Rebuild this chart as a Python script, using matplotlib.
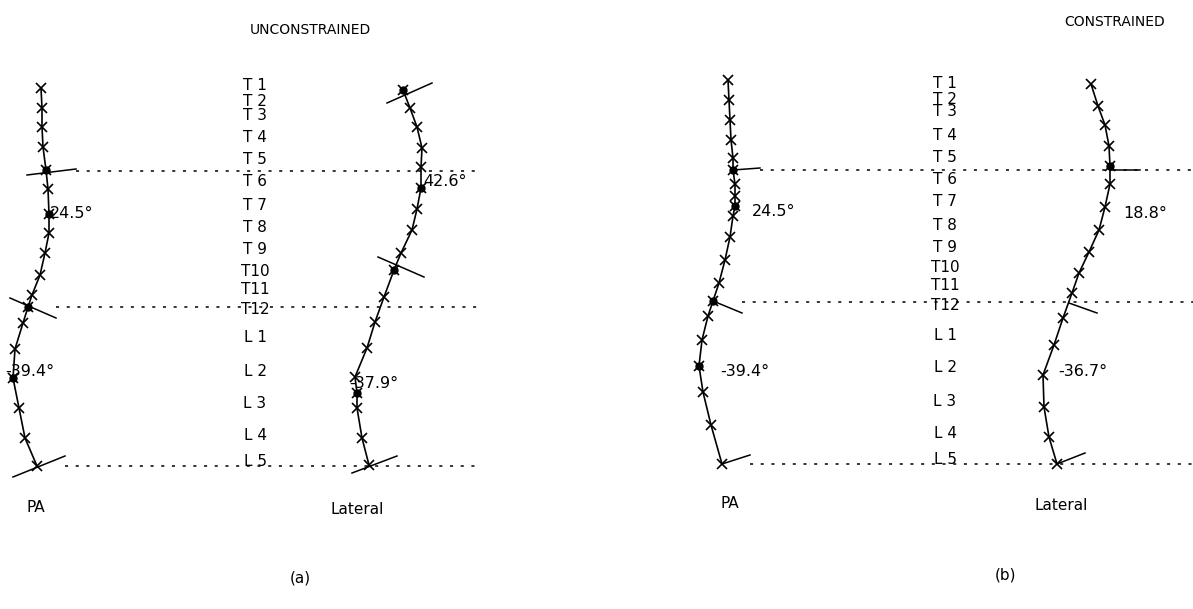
import matplotlib.pyplot as plt

# vertebra level names (same column in both panels)
vert_labels = ['T 1', 'T 2', 'T 3', 'T 4', 'T 5', 'T 6', 'T 7', 'T 8', 'T 9', 'T10',
               'T11', 'T12', 'L 1', 'L 2', 'L 3', 'L 4', 'L 5']
label_y_a = [85, 102, 115, 138, 160, 181, 205, 228, 250, 271, 289, 309, 338, 371, 404, 436, 462]
label_y_b = [83, 99, 112, 135, 157, 179, 202, 225, 247, 268, 286, 305, 335, 368, 401, 433, 459]

# (a) unconstrained, PA view
pa_a_x = [41, 42, 42, 43, 46, 48, 49, 49, 45, 40, 32, 28, 23, 15, 13, 19, 25, 37]
pa_a_y = [88, 108, 127, 147, 170, 189, 214, 233, 253, 275, 295, 307, 323, 349, 378, 408, 438, 466]
pa_a_dots = [4, 6, 11, 14]

# (a) unconstrained, lateral view
lat_a_x = [403, 410, 417, 422, 421, 421, 417, 412, 401, 394, 384, 375, 367, 355, 357, 357, 362, 369]
lat_a_y = [90, 108, 127, 148, 167, 188, 209, 230, 253, 270, 297, 322, 348, 377, 393, 408, 438, 465]
lat_a_dots = [0, 5, 9, 14]

# (b) constrained, PA view
pa_b_x = [728, 729, 730, 731, 733, 733, 735, 735, 735, 733, 730, 725, 719, 713, 708, 702, 699, 703, 711, 722]
pa_b_y = [80, 100, 120, 140, 158, 170, 184, 196, 206, 216, 237, 260, 283, 301, 316, 340, 366, 392, 425, 464]
pa_b_dots = [5, 8, 13, 16]

# (b) constrained, lateral view
lat_b_x = [1091, 1098, 1105, 1109, 1110, 1110, 1105, 1099, 1089, 1079, 1072, 1063, 1054, 1043, 1044, 1049, 1057]
lat_b_y = [84, 106, 125, 146, 166, 184, 207, 230, 252, 273, 293, 318, 345, 375, 407, 437, 464]
lat_b_dots = [4]

# endplate tilt lines
tilt_a = [((27, 175), (76, 169)), ((10, 298), (56, 318)), ((13, 477), (65, 456)),
          ((387, 103), (432, 83)), ((378, 257), (424, 277)), ((352, 473), (397, 456))]
tilt_b = [((733, 170), (760, 168)), ((713, 301), (742, 313)), ((722, 464), (750, 455)),
          ((1110, 170), (1140, 170)), ((1069, 303), (1097, 313)), ((1057, 464), (1085, 453))]

# horizontal reference levels (y, x start, x end)
levels_a = [(171, 76, 480), (307, 56, 483), (466, 65, 480)]
levels_b = [(170, 760, 1193), (302, 742, 1193), (464, 750, 1193)]

# Cobb angle annotations
angles = [('24.5°', 50, 214), ('-39.4°', 5, 372), ('42.6°', 423, 181), ('-37.9°', 349, 383),
          ('24.5°', 752, 212), ('-39.4°', 720, 372), ('18.8°', 1123, 213), ('-36.7°', 1058, 372)]

narrow = ['Liberation Sans Narrow', 'DejaVu Sans']

fig = plt.figure(figsize=(11.93, 6.09), dpi=100)
ax = fig.add_axes([0, 0, 1, 1])
ax.set_xlim(0, 1193)
ax.set_ylim(609, 0)
ax.axis('off')


def draw_spine(ax, xs, ys, dots):
    ax.plot(xs, ys, color='black', lw=1.2, zorder=3)
    ax.plot(xs, ys, ls='none', marker='x', ms=7, mew=1.2, color='black', zorder=4)
    ax.plot([xs[i] for i in dots], [ys[i] for i in dots], ls='none', marker='o', ms=5,
            color='black', zorder=5)


for xs, ys, d in [(pa_a_x, pa_a_y, pa_a_dots), (lat_a_x, lat_a_y, lat_a_dots),
                  (pa_b_x, pa_b_y, pa_b_dots), (lat_b_x, lat_b_y, lat_b_dots)]:
    draw_spine(ax, xs, ys, d)

for (p0, p1) in tilt_a + tilt_b:
    ax.plot([p0[0], p1[0]], [p0[1], p1[1]], color='black', lw=1.1, zorder=3)

for y, x0, x1 in levels_a + levels_b:
    ax.plot([x0, x1], [y, y], color='black', lw=1.1, ls=(0, (2, 5)), zorder=2)

for lab, ya, yb in zip(vert_labels, label_y_a, label_y_b):
    ax.text(255, ya, lab, ha='center', va='center', fontsize=11, family=narrow)
    ax.text(945, yb, lab, ha='center', va='center', fontsize=11, family=narrow)

for txt, x, y in angles:
    ax.text(x, y, txt, ha='left', va='center', fontsize=11.5, family=narrow, zorder=6)

ax.text(310, 30, 'UNCONSTRAINED', ha='center', va='center', fontsize=10)
ax.text(1115, 22, 'CONSTRAINED', ha='center', va='center', fontsize=10)
ax.text(27, 508, 'PA', ha='left', va='center', fontsize=11)
ax.text(330, 509, 'Lateral', ha='left', va='center', fontsize=11)
ax.text(720, 503, 'PA', ha='left', va='center', fontsize=11)
ax.text(1035, 505, 'Lateral', ha='left', va='center', fontsize=11)
ax.text(300, 578, '(a)', ha='center', va='center', fontsize=11)
ax.text(1005, 575, '(b)', ha='center', va='center', fontsize=11)

fig.savefig('out.png', dpi=100)
